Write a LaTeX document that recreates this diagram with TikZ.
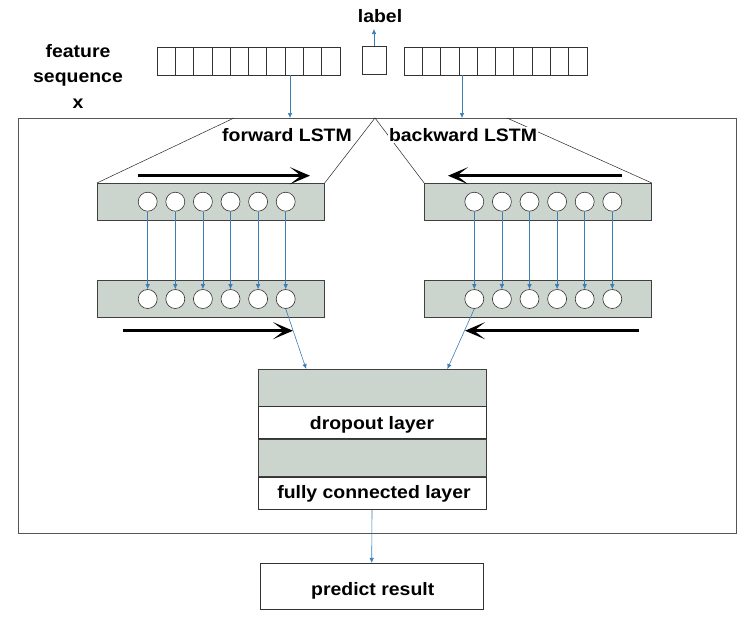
\documentclass[tikz,border=0pt]{standalone}
\usepackage{fontspec}
\setmainfont{Liberation Sans}[FakeStretch=1.08]
\usepackage{xcolor}
\usepackage{tikz}
\usetikzlibrary{positioning, arrows.meta, calc}
\definecolor{layergray}{HTML}{CCD5CD}
\definecolor{flowblue}{HTML}{3C7DB4}
\definecolor{framegray}{HTML}{555555}

\tikzset{
  txt/.style={font=\bfseries\fontsize{18}{25.5}\selectfont, inner sep=0pt, align=center},
  cell/.style={draw=black!80, line width=0.7pt, minimum width=18.3, minimum height=28, inner sep=0pt},
  layer/.style={draw=black!75, fill=layergray, line width=0.7pt, minimum width=227, minimum height=36.7, inner sep=0pt},
  unit/.style={circle, draw=black!80, fill=white, line width=0.6pt, minimum size=19, inner sep=0pt},
  plainbox/.style={draw=black!80, fill=white, line width=0.7pt, minimum width=228, inner sep=0pt},
  flow/.style={draw=flowblue, line width=0.6pt, -{Latex[length=5pt,width=4.5pt]}},
  dirarrow/.style={line width=3pt, -{Stealth[length=20pt,width=17pt,inset=11pt]}},
  thinline/.style={draw=black!85, line width=0.5pt}
}

\begin{document}
\begin{tikzpicture}[x=1pt, y=-1pt]
  \useasboundingbox (0,0) rectangle (748,625);

  % input sequence and label
  \node[txt] (feat) at (78,76) {feature\\sequence\\x};
  \foreach \i in {0,...,9} {
    \node[cell] (l\i) at (157+9.15+18.3*\i,61) {};
    \node[cell] (r\i) at (404+9.15+18.3*\i,61) {};
  }
  \node[cell, minimum width=24] (lab) at (374,60) {};
  \node[txt] (labtxt) at (380,16) {label};
  \draw[flow] (lab.north) -- (lab.north |- 0,29);

  % frame of the network
  \node[draw=framegray, line width=0.8pt, minimum width=718, minimum height=415, inner sep=0pt] (frame) at (377,325.5) {};
  \coordinate (fin) at (290,118);
  \coordinate (bin) at (462,118);
  \draw[flow] (fin |- l7.south) -- (fin);
  \draw[flow] (bin |- r3.south) -- (bin);

  % LSTM layers
  \node[layer] (fu) at (210.8,201.7) {};
  \node[layer] (fl) at (210.8,299) {};
  \node[layer] (bu) at (538,201.7) {};
  \node[layer] (bl) at (538,299) {};
  \foreach \k in {0,...,5} {
    \node[unit] (fuc\k) at (147.7+27.6*\k,201.7) {};
    \node[unit] (flc\k) at (147.7+27.6*\k,299) {};
    \node[unit] (buc\k) at (474.3+27.6*\k,201.7) {};
    \node[unit] (blc\k) at (474.3+27.6*\k,299) {};
    \draw[flow] (fuc\k.south) -- (flc\k.north);
    \draw[flow] (buc\k.south) -- (blc\k.north);
  }

  \coordinate (fa) at (234,118);
  \coordinate (peak) at (375,118);
  \coordinate (fb) at (507,118);
  \draw[thinline] (fu.north west) -- (fa);
  \draw[thinline] (fu.north east) -- (peak) -- (bu.north west);
  \draw[thinline] (bu.north east) -- (fb);
  \node[txt, fill=white, inner sep=1pt] (fwdtxt) at (287,135) {forward LSTM};
  \node[txt, fill=white, inner sep=1pt] (bwdtxt) at (463,135) {backward LSTM};

  \coordinate (fua) at (138,175.7);
  \coordinate (fub) at (310,175.7);
  \coordinate (fla) at (123,330.7);
  \coordinate (flb) at (293,330.7);
  \coordinate (bua) at (622,175.7);
  \coordinate (bub) at (448,175.7);
  \coordinate (bla) at (639,330.7);
  \coordinate (blb) at (465,330.7);
  \draw[dirarrow] (fua) -- (fub);
  \draw[dirarrow] (fla) -- (flb);
  \draw[dirarrow] (bua) -- (bub);
  \draw[dirarrow] (bla) -- (blb);

  % dropout, fully connected, output
  \node[layer, minimum width=228] (dg) at (372,387.7) {};
  \node[plainbox, minimum height=31.7, below=0pt of dg] (dw) {};
  \node[txt] at ($(dw)+(0,2)$) {dropout layer};
  \node[layer, minimum width=228, minimum height=37.3, below=0pt of dw] (fg) {};
  \node[plainbox, minimum height=32.3, below=0pt of fg] (fw) {};
  \node[txt] at ($(fw)+(2,1)$) {fully connected layer};
  \draw[flow] (flc5.south) -- ($(dg.north west)+(48.5,0)$);
  \draw[flow] (blc0.south) -- ($(dg.north east)+(-39,0)$);

  \node[plainbox, minimum width=223.3, minimum height=46] (pr) at (371.7,586.3) {};
  \node[txt] at ($(pr)+(1,5)$) {predict result};
  \draw[flow] (fw.south) -- (pr.north);
\end{tikzpicture}
\end{document}
